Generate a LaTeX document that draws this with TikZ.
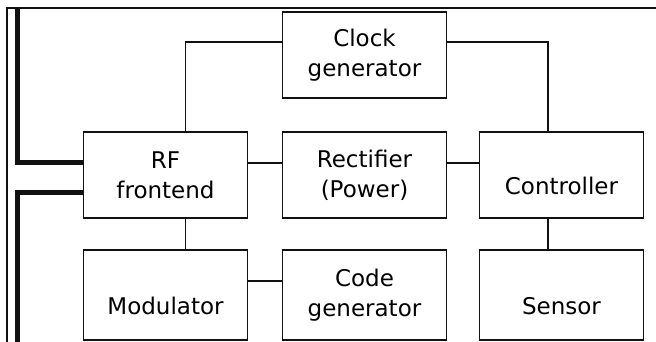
\documentclass[tikz,border=0pt]{standalone}
\usepackage{fontspec}
\setmainfont{DejaVu Sans}
\usetikzlibrary{positioning}
\definecolor{ink}{HTML}{111111}

\begin{document}
\begin{tikzpicture}[
  x=1pt, y=-1pt,
  font=\fontsize{23}{30}\selectfont,
  block/.style={draw=ink, line width=1.4pt, fill=white,
                minimum width=164pt, minimum height=86pt,
                align=center, inner sep=0pt},
  lone/.style={text height=40pt},
  wire/.style={draw=ink, line width=1.4pt},
  bus/.style={draw=ink, line width=5pt},
  frame/.style={draw=ink, line width=1.3pt},
]
\useasboundingbox (0,0) rectangle (656,342);

\node[block] (clk)  at (364.5,55)  {Clock\\generator};
\node[block] (rf)   at (165.5,175) {RF\\frontend};
\node[block] (rect) at (364.5,175) {Rectifier\\(Power)};
\node[block, lone] (ctrl) at (561.5,175) {Controller};
\node[block, lone, minimum height=90pt] (mod)  at (165.5,295) {Modulator};
\node[block, minimum height=90pt] (code) at (364.5,295) {Code\\generator};
\node[block, lone, minimum height=90pt] (sens) at (561.5,295) {Sensor};

% antenna feed and frame
\coordinate (antA) at (17.5,8);
\coordinate (antB) at (17.5,344);
\coordinate (corA) at (7,344);
\coordinate (corB) at (7,8);
\coordinate (corC) at (658,8);
\draw[frame] (corA) -- (corB) -- (corC);
\draw[bus] (antA) |- ([yshift=12pt]rf.west);
\draw[bus] (antB) |- ([yshift=-17pt]rf.west);

\draw[wire] ([yshift=13pt]clk.west) -| ([xshift=20pt]rf.north);
\draw[wire] ([yshift=13pt]clk.east) -| ([xshift=-13.5pt]ctrl.north);
\draw[wire] ([yshift=12pt]rf.east) -- ([yshift=12pt]rect.west);
\draw[wire] ([yshift=12pt]rect.east) -- ([yshift=12pt]ctrl.west);
\draw[wire] ([xshift=20pt]rf.south) -- ([xshift=20pt]mod.north);
\draw[wire] ([yshift=14pt]mod.east) -- ([yshift=14pt]code.west);
\draw[wire] ([xshift=-13.5pt]ctrl.south) -- ([xshift=-13.5pt]sens.north);
\end{tikzpicture}
\end{document}
